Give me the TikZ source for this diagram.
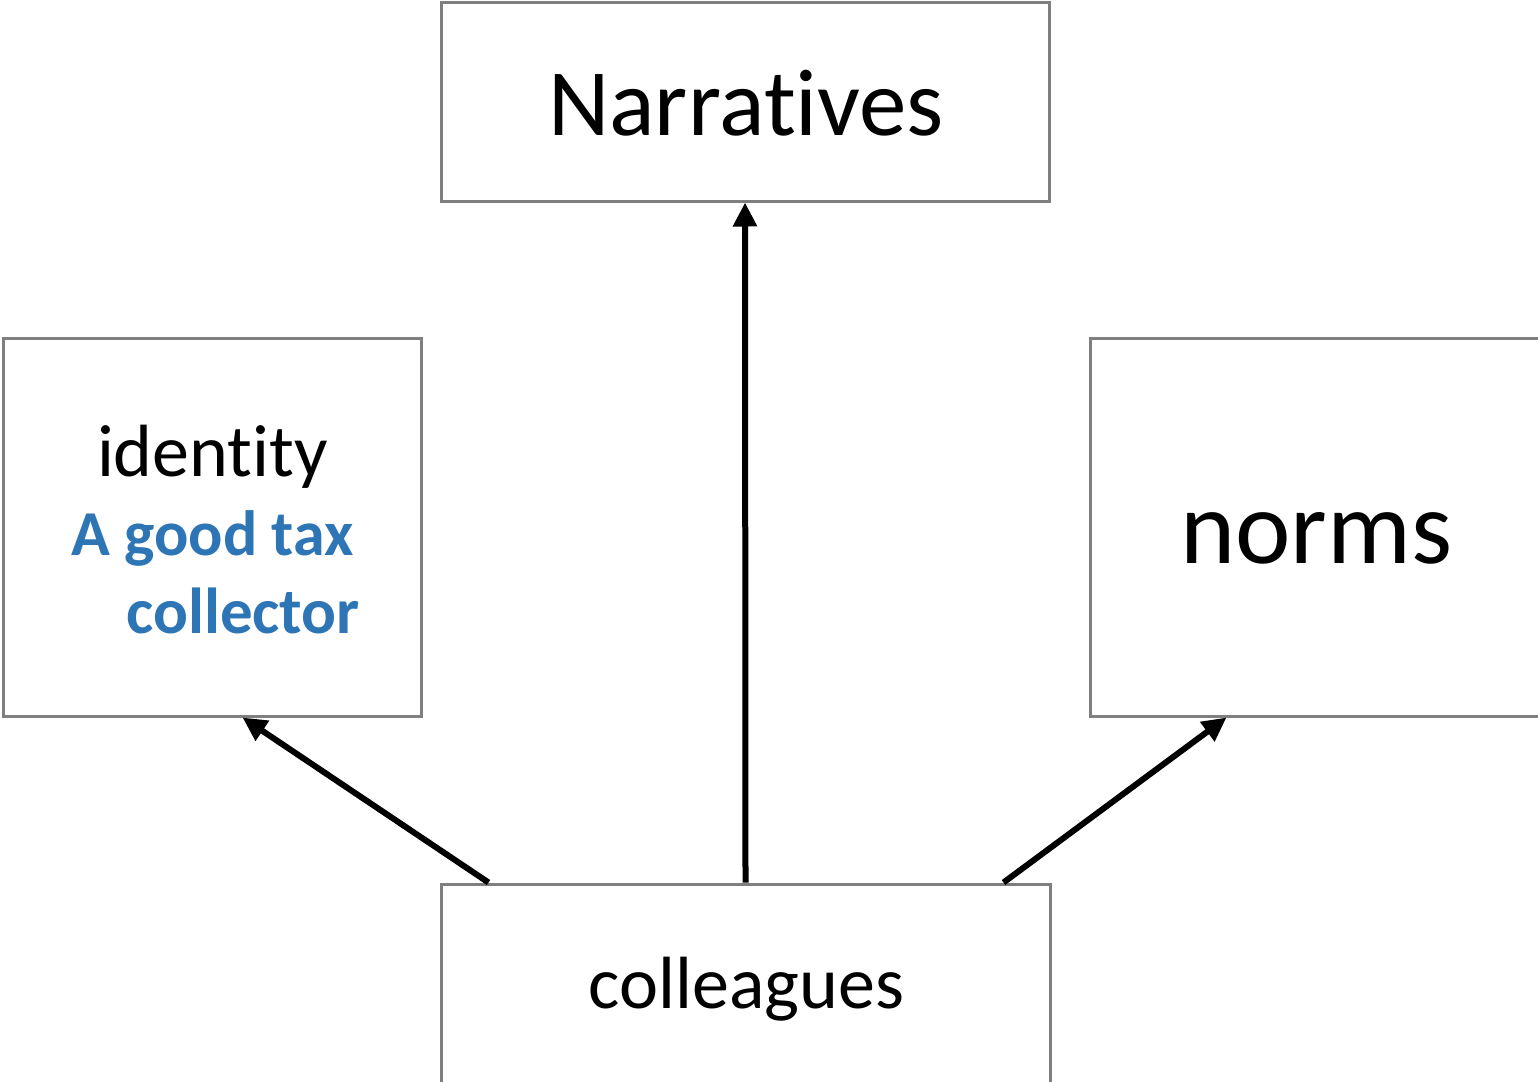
\documentclass[tikz,border=0pt]{standalone}
\usepackage{fontspec}
\setmainfont{Carlito}[Ligatures=NoCommon]
\usetikzlibrary{arrows.meta,calc}
\definecolor{boxgray}{HTML}{7F7F7F}
\definecolor{accentblue}{HTML}{2E75B6}
\tikzset{
  box/.style={draw=boxgray, line width=3pt, minimum width=#1, inner sep=0pt},
  link/.style={line width=6pt, -{Triangle[length=24pt,width=23pt]}},
  txt/.style={inner sep=0pt, anchor=base},
}
\begin{document}
\begin{tikzpicture}[x=1pt,y=-1pt]
\useasboundingbox (0,0) rectangle (1538,1081);
% boxes
\node[box=608pt, minimum height=198pt] (narr) at (745,102) {};
\node[box=418pt, minimum height=378pt] (ident) at (212,527) {};
\node[box=455pt, minimum height=378pt] (norms) at (1317.5,527) {};
\node[box=609pt, minimum height=206pt] (coll) at (745.5,987) {};
% labels
\node[txt] (tnarr) at (746,135) {\fontsize{95}{110}\selectfont Narratives};
\node[txt] (tident) at (212.5,476) {\fontsize{74}{88}\selectfont identity};
\node[txt, anchor=base west, text=accentblue] (tgood) at (71,555) {\fontsize{64}{76}\selectfont\bfseries A good tax};
\node[txt, anchor=base west, text=accentblue] (tcoll) at (126,633) {\fontsize{65}{76}\selectfont\bfseries collector};
\node[txt] (tnorms) at (1316.5,563) {\fontsize{105}{120}\selectfont norms};
\node[txt] (tcolleagues) at (746.5,1008) {\fontsize{74}{88}\selectfont colleagues};
% connectors
\draw[link] (coll.north) -- (narr.south);
\draw[link] ($(coll.north west)+(49,0)$) -- ($(ident.south west)+(241,0)$);
\draw[link] ($(coll.north west)+(564,0)$) -- ($(norms.south west)+(138,0)$);
\end{tikzpicture}
\end{document}
